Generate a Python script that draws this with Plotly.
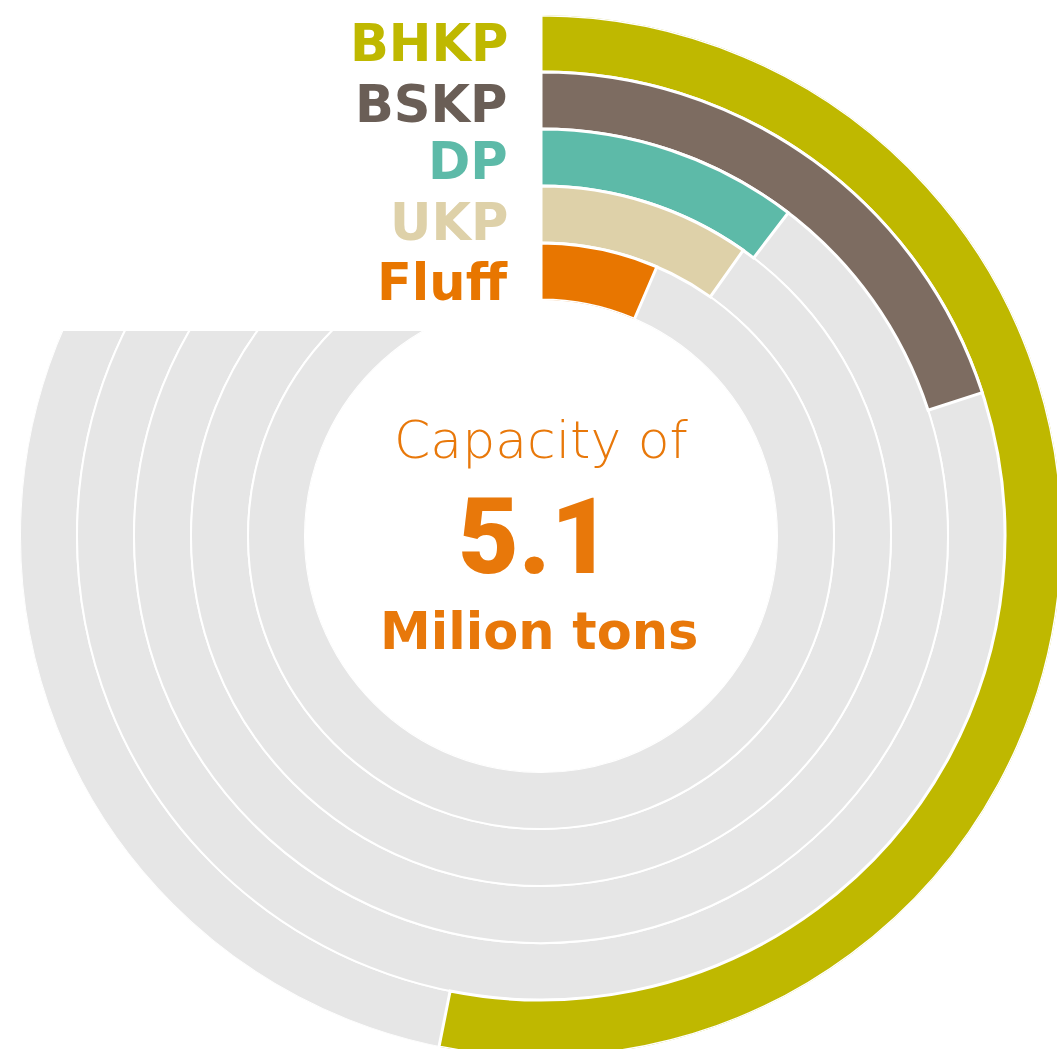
import plotly.graph_objects as go

# ---- data ----
categories = ["BHKP", "BSKP", "DP", "UKP", "Fluff"]
capacity_mt = [2.71, 1.02, 0.53, 0.50, 0.33]   # million tons per pulp grade
total_capacity = 5.1                             # million tons (full circle)
bar_colors = ["#BFB800", "#7D6C61", "#5DBAA8", "#DED1A9", "#E87600"]
label_colors = ["#BFB800", "#6A5E56", "#5DBAA8", "#DED1A9", "#E87600"]
ring_index = [4, 3, 2, 1, 0]                     # outer -> inner
center_title = "Capacity of"
center_value = "5.1"
center_unit = "Milion tons"

# ---- geometry (pixels) ----
W, H = 1062, 1057
cx, cy, R, r_in = 541, 536, 521, 236
label_y = [43.5, 105, 161.5, 222, 283]
orange = "#E8780A"

angles = [v / total_capacity * 360 for v in capacity_mt]

fig = go.Figure()
fig.add_trace(go.Barpolar(
    r=[1] * len(categories), base=ring_index,
    theta=[180] * len(categories), width=[360] * len(categories),
    marker=dict(color="#E6E6E6", line=dict(color="white", width=2)),
    hoverinfo="skip", showlegend=False))
fig.add_trace(go.Barpolar(
    r=[1] * len(categories), base=ring_index,
    theta=[a / 2 for a in angles], width=angles,
    marker=dict(color=bar_colors, line=dict(color="white", width=3)),
    text=categories, hoverinfo="text", showlegend=False))

fig.update_layout(
    width=W, height=H,
    margin=dict(l=0, r=0, t=0, b=0),
    paper_bgcolor="white",
    polar=dict(
        domain=dict(x=[(cx - R) / W, min(1.0, (cx + R) / W)],
                    y=[max(0.0, (H - (cy + R)) / H), (H - (cy - R)) / H]),
        hole=r_in / R,
        bgcolor="white",
        barmode="overlay",
        radialaxis=dict(range=[0, 5], visible=False),
        angularaxis=dict(rotation=90, direction="clockwise", visible=False,
                         showgrid=False, showline=False),
    ),
    shapes=[dict(type="rect", xref="paper", yref="paper",
                 x0=-0.02, x1=cx / W, y0=1 - 331 / H, y1=1.02,
                 fillcolor="white", line=dict(width=0), layer="above")],
)

for cat, col, yc in zip(categories, label_colors, label_y):
    fig.add_annotation(x=510 / W, y=1 - yc / H, xref="paper", yref="paper",
                       text=cat, showarrow=False, xanchor="right", yanchor="middle",
                       font=dict(family="DejaVu Sans", size=51, color=col, weight="bold"))

fig.add_annotation(x=cx / W, y=1 - 440 / H, xref="paper", yref="paper",
                   text=center_title, showarrow=False, xanchor="center", yanchor="middle",
                   font=dict(family="DejaVu Sans", size=52, color=orange, weight=300))
fig.add_annotation(x=535 / W, y=1 - 537 / H, xref="paper", yref="paper",
                   text=center_value, showarrow=False, xanchor="center", yanchor="middle",
                   font=dict(family="Roboto", size=105, color=orange, weight=900))
fig.add_annotation(x=539 / W, y=1 - 631 / H, xref="paper", yref="paper",
                   text=center_unit, showarrow=False, xanchor="center", yanchor="middle",
                   font=dict(family="DejaVu Sans", size=51, color=orange, weight="bold"))

fig.write_html("out.html", config={"displayModeBar": False},
               post_script="document.body.style.margin='0';document.body.style.overflow='hidden';")
